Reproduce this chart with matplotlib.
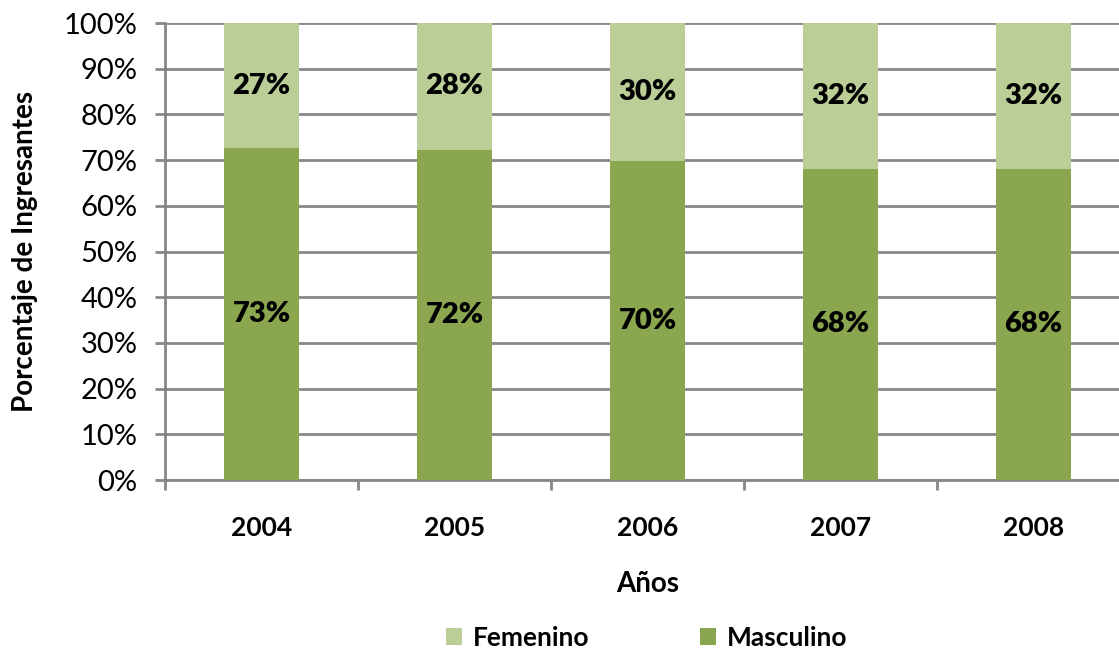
import matplotlib as mpl
mpl.use('Agg')
import matplotlib.pyplot as plt
import numpy as np

YEARS = ['2004', '2005', '2006', '2007', '2008']
MASCULINO = [72.6, 72.3, 69.7, 68.1, 68.1]
FEMENINO = [27.4, 27.7, 30.3, 31.9, 31.9]

COLOR_M = '#8AA64E'
COLOR_F = '#BBCE98'
GRID = '#878787'

plt.rcParams['font.family'] = ['Lato', 'DejaVu Sans']

fig = plt.figure(figsize=(11.19, 6.52), dpi=100)
ax = fig.add_axes([0.1475, 0.2638, 0.8624, 0.7009])

x = np.arange(len(YEARS))
width = 0.39
bm = ax.bar(x, MASCULINO, width, color=COLOR_M, label='Masculino', zorder=3)
bf = ax.bar(x, FEMENINO, width, bottom=MASCULINO, color=COLOR_F,
            label='Femenino', zorder=3)

# labels in the middle of each segment
for xi, m, f in zip(x, MASCULINO, FEMENINO):
    ax.text(xi, m / 2, '{}%'.format(int(round(m))), ha='center', va='center',
            fontsize=21, fontweight='heavy', zorder=4)
    ax.text(xi, m + f / 2, '{}%'.format(int(round(f))), ha='center',
            va='center', fontsize=21, fontweight='heavy', zorder=4)

ax.set_xlim(-0.5, len(YEARS) - 0.5)
ax.set_ylim(0, 100)
ax.set_yticks(range(0, 101, 10))
ax.set_yticklabels(['{}%'.format(v) for v in range(0, 101, 10)], fontsize=21)
ax.yaxis.grid(True, color=GRID, linewidth=2, zorder=0)
ax.set_xticks(x)
ax.set_xticklabels(YEARS, fontsize=19, fontweight='bold')
ax.set_xticks(np.arange(-0.5, len(YEARS), 1), minor=True)
ax.tick_params(axis='x', which='major', length=0, pad=26)
ax.tick_params(axis='x', which='minor', length=7, width=2, color=GRID)
ax.tick_params(axis='y', length=7, width=2, color=GRID, pad=13)

for s in ['top', 'right']:
    ax.spines[s].set_visible(False)
for s in ['left', 'bottom']:
    ax.spines[s].set_color(GRID)
    ax.spines[s].set_linewidth(2)

ax.set_ylabel('Porcentaje de Ingresantes', fontsize=20, fontweight='bold',
              labelpad=18)
ax.set_xlabel('Años', fontsize=20, fontweight='bold', labelpad=22)

leg = fig.legend(handles=[bf, bm], loc='center', ncol=2, frameon=False,
                 bbox_to_anchor=(0.578, 0.022),
                 prop={'weight': 'bold', 'size': 19}, handlelength=0.6,
                 handleheight=0.6, columnspacing=4.2, handletextpad=0.4)

plt.savefig('out.png', dpi=100)
